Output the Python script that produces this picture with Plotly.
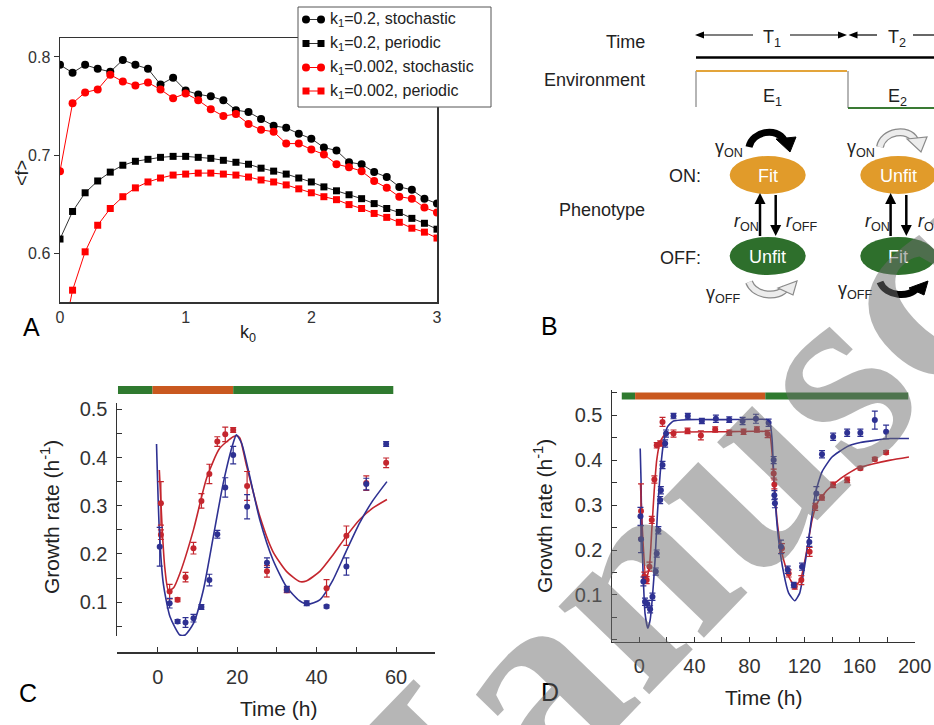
import plotly.graph_objects as go

W, H = 934, 725
FONT = "Liberation Sans"

# ---------------- Panel A data ----------------
k0 = [0.0, 0.1, 0.2, 0.3, 0.4, 0.5, 0.6, 0.7, 0.8, 0.9, 1.0, 1.1, 1.2, 1.3, 1.4, 1.5,
      1.6, 1.7, 1.8, 1.9, 2.0, 2.1, 2.2, 2.3, 2.4, 2.5, 2.6, 2.7, 2.8, 2.9, 3.0]
f_k02_stoch = [0.792, 0.784, 0.792, 0.788, 0.785, 0.797, 0.792, 0.788, 0.772, 0.779, 0.766,
               0.762, 0.760, 0.756, 0.746, 0.744, 0.737, 0.730, 0.728, 0.722, 0.717, 0.708,
               0.705, 0.693, 0.691, 0.683, 0.678, 0.668, 0.665, 0.656, 0.651]
f_k02_per = [0.615, 0.643, 0.662, 0.674, 0.683, 0.690, 0.694, 0.696, 0.698, 0.699, 0.699,
             0.698, 0.697, 0.695, 0.693, 0.691, 0.687, 0.684, 0.681, 0.677, 0.673, 0.668,
             0.664, 0.660, 0.656, 0.651, 0.646, 0.642, 0.636, 0.631, 0.625]
f_k0002_stoch = [0.684, 0.753, 0.764, 0.767, 0.782, 0.775, 0.771, 0.774, 0.767, 0.758, 0.763,
                 0.756, 0.747, 0.740, 0.742, 0.732, 0.726, 0.724, 0.712, 0.712, 0.706, 0.701,
                 0.691, 0.688, 0.684, 0.674, 0.667, 0.658, 0.656, 0.647, 0.642]
f_k0002_per = [0.500, 0.563, 0.602, 0.629, 0.646, 0.658, 0.667, 0.673, 0.677, 0.680, 0.681,
               0.682, 0.682, 0.681, 0.680, 0.678, 0.675, 0.673, 0.670, 0.666, 0.662, 0.658,
               0.655, 0.650, 0.646, 0.641, 0.637, 0.632, 0.626, 0.622, 0.616]
legend_names = ["k<sub>1</sub>=0.2, stochastic", "k<sub>1</sub>=0.2, periodic",
                "k<sub>1</sub>=0.002, stochastic", "k<sub>1</sub>=0.002, periodic"]

# ---------------- Panel C data ----------------
c_red_t = [0.8, 0.8, 3, 5, 7, 9, 11, 13, 15, 17, 19, 22.5, 27.5, 32.5, 42.5, 47.5, 52.5, 57.5]
c_red_v = [0.305, 0.240, 0.122, 0.105, 0.152, 0.212, 0.310, 0.366, 0.433, 0.448, 0.457,
           0.341, 0.164, 0.125, 0.129, 0.238, 0.347, 0.389]
c_red_e = [0.045, 0.010, 0.015, 0.004, 0.010, 0.012, 0.015, 0.020, 0.010, 0.015, 0.005,
           0.030, 0.012, 0.005, 0.018, 0.020, 0.015, 0.010]
c_blue_t = [0.5, 3, 5, 7, 9, 11, 13, 15, 17, 19, 22.5, 27.5, 32.5, 37.5, 42.5, 47.5, 52.5, 57.5]
c_blue_v = [0.215, 0.098, 0.060, 0.058, 0.067, 0.090, 0.146, 0.241, 0.338, 0.405, 0.298,
            0.182, 0.127, 0.098, 0.091, 0.174, 0.345, 0.428]
c_blue_e = [0.040, 0.010, 0.004, 0.010, 0.008, 0.005, 0.012, 0.008, 0.020, 0.018, 0.025,
            0.010, 0.006, 0.005, 0.003, 0.018, 0.012, 0.005]
c_red_fit_t = [0.4, 1.2, 1.8, 2.7, 4.0, 5.6, 9.0, 12.3, 15.6, 19.0, 20.0, 20.7, 22.3, 25.7,
               29.0, 32.4, 35.7, 37.4, 40.8, 44.1, 47.4, 50.8, 54.1, 57.7]
c_red_fit_v = [0.374, 0.240, 0.170, 0.124, 0.130, 0.160, 0.250, 0.357, 0.419, 0.443, 0.445,
               0.440, 0.385, 0.278, 0.205, 0.164, 0.143, 0.144, 0.164, 0.198, 0.236, 0.271,
               0.295, 0.313]
c_blue_fit_t = [-0.3, 0.4, 1.4, 3.1, 5.6, 6.9, 9.0, 11.5, 14.0, 16.5, 19.0, 19.8, 21.1, 22.8,
                25.7, 29.0, 32.4, 35.7, 37.8, 40.8, 44.1, 47.4, 50.8, 54.1, 57.7]
c_blue_fit_v = [0.428, 0.250, 0.139, 0.070, 0.032, 0.032, 0.056, 0.126, 0.236, 0.347, 0.430,
                0.447, 0.430, 0.374, 0.271, 0.188, 0.132, 0.103, 0.096, 0.105, 0.146, 0.205,
                0.264, 0.310, 0.350]
c_env_bounds = [-10.0, -1.3, 19.0, 59.3]   # green | orange | green

# ---------------- Panel D data ----------------
d_blue_t = [0.8, 1.2, 2.9, 4.1, 5.8, 7.8, 9.5, 11.9, 12.6, 13.8, 15.1, 15.6, 16.8, 18.7, 19.4,
            24.8, 35.2, 45.4, 55.6, 65.3, 75.0, 84.7, 93.9, 97.6, 98.1, 98.5, 102.9, 107.8,
            112.2, 118.2, 123.5, 128.6, 132.7, 140.8, 151.0, 160.6, 171.1, 179.3]
d_blue_v = [0.275, 0.224, 0.130, 0.085, 0.080, 0.068, 0.096, 0.152, 0.192, 0.244, 0.311,
            0.333, 0.389, 0.437, 0.459, 0.498, 0.498, 0.487, 0.492, 0.490, 0.487, 0.492,
            0.483, 0.400, 0.322, 0.304, 0.207, 0.156, 0.122, 0.163, 0.218, 0.326, 0.413,
            0.452, 0.461, 0.461, 0.489, 0.463]
d_blue_e = [0.020, 0.030, 0.010, 0.008, 0.008, 0.008, 0.008, 0.008, 0.008, 0.008, 0.008,
            0.008, 0.008, 0.008, 0.008, 0.006, 0.006, 0.006, 0.008, 0.006, 0.008, 0.010,
            0.008, 0.008, 0.010, 0.010, 0.015, 0.008, 0.006, 0.008, 0.010, 0.015, 0.008,
            0.008, 0.008, 0.008, 0.020, 0.015]
d_red_t = [1.2, 3.6, 5.3, 7.3, 9.0, 10.9, 12.6, 15.1, 16.8, 24.8, 35.0, 44.7, 55.1, 65.3, 75.7,
           85.4, 93.2, 97.6, 98.1, 103.6, 108.5, 112.9, 117.7, 123.7, 127.8, 132.7, 140.8,
           151.0, 160.6, 171.1, 179.3]
d_red_v = [0.287, 0.141, 0.133, 0.163, 0.267, 0.357, 0.433, 0.437, 0.485, 0.459, 0.465,
           0.455, 0.468, 0.461, 0.463, 0.468, 0.458, 0.370, 0.346, 0.204, 0.148, 0.119,
           0.133, 0.196, 0.296, 0.317, 0.345, 0.356, 0.382, 0.402, 0.417]
d_red_e = [0.060, 0.010, 0.008, 0.010, 0.008, 0.008, 0.006, 0.006, 0.010, 0.008, 0.006,
           0.010, 0.006, 0.006, 0.006, 0.006, 0.008, 0.010, 0.010, 0.010, 0.008, 0.006,
           0.010, 0.010, 0.008, 0.006, 0.006, 0.006, 0.004, 0.004, 0.004]
d_blue_fit_t = [0.6, 1.2, 1.7, 2.9, 4.1, 6.1, 7.8, 9.5, 11.4, 13.1, 15.1, 17.5, 20.4, 24.8,
                35.0, 60.0, 93.0, 94.7, 96.4, 98.1, 101.2, 104.9, 108.5, 112.9, 116.5, 120.6,
                124.3, 127.9, 132.7, 140.0, 151.0, 160.6, 171.1, 182.4, 195.9]
d_blue_fit_v = [0.426, 0.355, 0.244, 0.133, 0.059, 0.026, 0.044, 0.096, 0.178, 0.281, 0.370,
                0.437, 0.474, 0.487, 0.490, 0.490, 0.490, 0.485, 0.448, 0.337, 0.222, 0.148,
                0.104, 0.087, 0.104, 0.174, 0.252, 0.326, 0.374, 0.407, 0.430, 0.439, 0.444,
                0.448, 0.448]
d_red_fit_t = [0.8, 2.5, 4.8, 7.3, 9.0, 10.8, 12.6, 15.1, 18.7, 25.0, 60.0, 93.0, 95.0, 97.6,
               100.0, 103.6, 108.5, 112.9, 117.0, 121.3, 125.5, 129.2, 136.4, 146.1, 158.2,
               170.3, 182.4, 195.9]
d_red_fit_v = [0.348, 0.226, 0.133, 0.163, 0.244, 0.333, 0.400, 0.441, 0.458, 0.462, 0.463,
               0.463, 0.455, 0.370, 0.267, 0.193, 0.141, 0.120, 0.133, 0.193, 0.267, 0.304,
               0.333, 0.359, 0.382, 0.392, 0.400, 0.407]
d_env_bounds = [-12.8, -3.1, 91.5, 195.4]

# ---------------- styling ----------------
BLACK = "#000000"
RED = "#ff0000"
DRED = "#c4262e"
DBLUE = "#2e3192"
GREEN_BAR = "#2f7a2f"
ORANGE_BAR = "#c9581f"
ON_COL = "#e19b2a"
OFF_COL = "#2e6f2c"
TXT = "#222222"


def px(x):
    return x / W


def py(y):
    return 1 - y / H


fig = go.Figure()

# ---- Panel A traces ----
specA = [(f_k02_stoch, BLACK, "circle", "#333333"),
         (f_k02_per, BLACK, "square", "#333333"),
         (f_k0002_stoch, RED, "circle", RED),
         (f_k0002_per, RED, "square", RED)]
for (vals, col, sym, lcol), name in zip(specA, legend_names):
    fig.add_trace(go.Scatter(x=k0, y=vals, mode="lines+markers", name=name, showlegend=False,
                             line=dict(color=lcol, width=1),
                             marker=dict(color=col, symbol=sym, size=8 if sym == "circle" else 7),
                             xaxis="x", yaxis="y", cliponaxis=True))

# ---- Panel C traces ----
fig.add_trace(go.Scatter(x=c_red_fit_t, y=c_red_fit_v, mode="lines", line=dict(color=DRED, width=1.6, shape="spline", smoothing=0.6),
                         xaxis="x2", yaxis="y2", showlegend=False))
fig.add_trace(go.Scatter(x=c_blue_fit_t, y=c_blue_fit_v, mode="lines", line=dict(color=DBLUE, width=1.6, shape="spline", smoothing=0.6),
                         xaxis="x2", yaxis="y2", showlegend=False))
fig.add_trace(go.Scatter(x=c_red_t, y=c_red_v, mode="markers", marker=dict(color=DRED, size=6, symbol="circle"),
                         error_y=dict(type="data", array=c_red_e, color=DRED, thickness=1.2, width=3),
                         xaxis="x2", yaxis="y2", showlegend=False))
fig.add_trace(go.Scatter(x=c_blue_t, y=c_blue_v, mode="markers", marker=dict(color=DBLUE, size=6, symbol="circle"),
                         error_y=dict(type="data", array=c_blue_e, color=DBLUE, thickness=1.2, width=3),
                         xaxis="x2", yaxis="y2", showlegend=False))

# ---- Panel D traces ----
fig.add_trace(go.Scatter(x=d_red_fit_t, y=d_red_fit_v, mode="lines", line=dict(color=DRED, width=1.6, shape="spline", smoothing=0.5),
                         xaxis="x3", yaxis="y3", showlegend=False))
fig.add_trace(go.Scatter(x=d_blue_fit_t, y=d_blue_fit_v, mode="lines", line=dict(color=DBLUE, width=1.6, shape="spline", smoothing=0.5),
                         xaxis="x3", yaxis="y3", showlegend=False))
fig.add_trace(go.Scatter(x=d_red_t, y=d_red_v, mode="markers", marker=dict(color=DRED, size=6, symbol="circle"),
                         error_y=dict(type="data", array=d_red_e, color=DRED, thickness=1.2, width=3),
                         xaxis="x3", yaxis="y3", showlegend=False))
fig.add_trace(go.Scatter(x=d_blue_t, y=d_blue_v, mode="markers", marker=dict(color=DBLUE, size=6, symbol="circle"),
                         error_y=dict(type="data", array=d_blue_e, color=DBLUE, thickness=1.2, width=3),
                         xaxis="x3", yaxis="y3", showlegend=False))

# overlay pixel axis for the diagram / legend / labels
fig.add_trace(go.Scatter(x=[None], y=[None], xaxis="x4", yaxis="y4", showlegend=False, hoverinfo="skip"))

shapes = []
annotations = []


def seg(x0, y0, x1, y1, color=BLACK, width=1.2):
    shapes.append(dict(type="line", xref="x4", yref="y4", x0=x0, y0=y0, x1=x1, y1=y1,
                       line=dict(color=color, width=width)))


def path(d, fill="rgba(0,0,0,0)", color=BLACK, width=0):
    shapes.append(dict(type="path", xref="x4", yref="y4", path=d, fillcolor=fill,
                       line=dict(color=color, width=width)))


def ellipse(cx, cy, rx, ry, fill):
    shapes.append(dict(type="circle", xref="x4", yref="y4", x0=cx - rx, x1=cx + rx,
                       y0=cy - ry, y1=cy + ry, fillcolor=fill, line=dict(width=0)))


def rect(x0, y0, x1, y1, fill, line_color=None, lw=0):
    shapes.append(dict(type="rect", xref="x4", yref="y4", x0=x0, x1=x1, y0=y0, y1=y1,
                       fillcolor=fill, line=dict(color=line_color or fill, width=lw)))


def text(x, y, s, size=18, color=TXT, xanchor="center", angle=0, family=FONT):
    annotations.append(dict(xref="x4", yref="y4", x=x, y=y, text=s, showarrow=False,
                            xanchor=xanchor, yanchor="middle", textangle=angle,
                            font=dict(family=family, size=size, color=color)))


# ---- legend of panel A (marker-line-marker glyphs) ----
rect(298, 7, 491, 107, "white", "#555555", 1)
leg_y = [19.5, 43.5, 67.5, 91.0]
for (vals, col, sym, lcol), name, yy in zip(specA, legend_names, leg_y):
    seg(306, yy, 321, yy, lcol, 1)
    for gx in (306, 321):
        if sym == "circle":
            ellipse(gx, yy, 4, 4, col)
        else:
            rect(gx - 3.5, yy - 3.5, gx + 3.5, yy + 3.5, col)
    text(328, yy, name, 16, TXT, xanchor="left")


# ---- environment bars for C and D ----
def env_bar(bounds, xref, yc, h):
    cols = [GREEN_BAR, ORANGE_BAR, GREEN_BAR]
    for i in range(3):
        shapes.append(dict(type="rect", xref=xref, yref="paper", x0=bounds[i], x1=bounds[i + 1],
                           y0=py(yc + h / 2), y1=py(yc - h / 2), fillcolor=cols[i], line=dict(width=0)))


env_bar(c_env_bounds, "x2", 390, 8)
env_bar(d_env_bounds, "x3", 396, 7)

# ---- Panel B diagram ----
seg(700, 35, 753, 35)
path("M 695,35 L 704,31.5 L 704,38.5 Z", fill=BLACK)
seg(790, 35, 840, 35)
path("M 847,35 L 838,31.5 L 838,38.5 Z", fill=BLACK)
path("M 848.5,35 L 857.5,31.5 L 857.5,38.5 Z", fill=BLACK)
seg(857, 35, 877, 35)
seg(913, 35, 934, 35)
text(772, 38, "T<sub>1</sub>", 18)
text(897, 38, "T<sub>2</sub>", 18)
seg(696, 57.5, 934, 57.5, BLACK, 2.5)
seg(696, 71, 696, 107, "#b5b5b5", 2)
seg(848, 71, 848, 108, "#b5b5b5", 2)
seg(696, 71, 847, 71, "#e3a43a", 2.2)
seg(848, 108, 934, 108, "#3a7a34", 2.2)
text(772, 97, "E<sub>1</sub>", 18)
text(897, 97, "E<sub>2</sub>", 18)
for cx, top_txt, bot_txt in [(767.7, "Fit", "Unfit"), (898.3, "Unfit", "Fit")]:
    ellipse(cx, 175, 38, 19, ON_COL)
    ellipse(cx, 256, 38, 19, OFF_COL)
    text(cx, 176, top_txt, 18, "white")
    text(cx, 257, bot_txt, 18, "white")
    ux, dx = cx - 7.7, cx + 8
    seg(ux, 236, ux, 202, BLACK, 2.5)
    path(f"M {ux},193 L {ux-5.5},204 L {ux+5.5},204 Z", fill=BLACK)
    seg(dx, 195, dx, 228, BLACK, 2.5)
    path(f"M {dx},236 L {dx-5.5},225 L {dx+5.5},225 Z", fill=BLACK)


def curved_arrow_top(x0, dark):
    d = f"M {x0},147 C {x0+3},131 {x0+28},127 {x0+35},140"
    head = f"M {x0+27},139 L {x0+47},137 L {x0+41},152 Z"
    if dark:
        path(d, color=BLACK, width=7)
        path(head, fill=BLACK, color=BLACK, width=1)
    else:
        path(d, color="#8a8a8a", width=8)
        path(d, color="#ececec", width=5.5)
        path(head, fill="#ececec", color="#8a8a8a", width=1.2)


def curved_arrow_bottom(x0, dark):
    d = f"M {x0},282 C {x0+6},297 {x0+30},298 {x0+37},288"
    head = f"M {x0+29},288 L {x0+48},281 L {x0+44},295 Z"
    if dark:
        path(d, color=BLACK, width=7)
        path(head, fill=BLACK, color=BLACK, width=1)
    else:
        path(d, color="#8a8a8a", width=8)
        path(d, color="#ececec", width=5.5)
        path(head, fill="#ececec", color="#8a8a8a", width=1.2)


curved_arrow_top(749, True)
curved_arrow_bottom(749, False)
curved_arrow_top(880, False)
curved_arrow_bottom(880, True)

text(729, 148, "γ<sub>ON</sub>", 18)
text(723, 294, "γ<sub>OFF</sub>", 18)
text(861, 148, "γ<sub>ON</sub>", 18)
text(855, 290, "γ<sub>OFF</sub>", 18)
text(746, 222, "<i>r</i><sub>ON</sub>", 18)
text(801, 222, "<i>r</i><sub>OFF</sub>", 18)
text(877, 222, "<i>r</i><sub>ON</sub>", 18)
text(916, 222, "<i>r</i><sub>OFF</sub>", 18, xanchor="left")
text(647, 42, "Time", 18, xanchor="right")
text(647, 80, "Environment", 18, xanchor="right")
text(647, 210, "Phenotype", 18, xanchor="right")
text(703, 176, "ON:", 18, xanchor="right")
text(703, 258, "OFF:", 18, xanchor="right")

text(31, 327, "A", 25, BLACK)
text(549, 326, "B", 25, BLACK)
text(28, 693, "C", 25, BLACK)
text(550, 692, "D", 25, BLACK)

text(22, 173, "<f>", 18, TXT, angle=-90)
text(248, 333, "k<sub>0</sub>", 18, TXT)
text(50, 517, "Growth rate (h<sup>-1</sup>)", 21, TXT, angle=-90)
text(278, 708, "Time (h)", 21, TXT)
text(543, 516, "Growth rate (h<sup>-1</sup>)", 21, TXT, angle=-90)
text(763, 697, "Time (h)", 21, TXT)

# watermark
annotations.append(dict(xref="x4", yref="y4", x=780, y=425, text="<b>Manuscript</b>", showarrow=False,
                        xanchor="center", yanchor="middle", textangle=-46,
                        font=dict(family="Liberation Serif", size=275, color="rgba(110,110,110,0.5)")))

axis_common = dict(showgrid=False, zeroline=False, linecolor="#333333", tickcolor="#333333",
                   automargin=False, tickfont=dict(family=FONT, size=20, color="#333333"))

fig.update_layout(
    width=W, height=H, autosize=False,
    margin=dict(l=0, r=0, t=0, b=0, pad=0, autoexpand=False),
    paper_bgcolor="white", plot_bgcolor="rgba(0,0,0,0)",
    font=dict(family=FONT, color=TXT),
    showlegend=False,
    xaxis=dict(domain=[px(60), px(437)], range=[0, 3], anchor="y", showline=True, mirror=True,
               linewidth=1.5, linecolor="#333333", showgrid=False, zeroline=False, automargin=False,
               tickvals=[0, 1, 2, 3], ticks="", tickfont=dict(family=FONT, size=16, color="#333333")),
    yaxis=dict(domain=[py(302), py(38)], range=[0.551, 0.8193], anchor="x", showline=True, mirror=True,
               linewidth=1.5, linecolor="#333333", showgrid=False, zeroline=False, automargin=False,
               tickvals=[0.6, 0.7, 0.8], ticks="outside", ticklen=5, tickcolor="#333333",
               tickfont=dict(family=FONT, size=16, color="#333333")),
    xaxis2=dict(domain=[px(117), px(435)], range=[-10.25, 69.8], anchor="free", position=py(652.3),
                showline=True, linewidth=1.5, ticks="inside", ticklen=5, dtick=20, tick0=0,
                minor=dict(dtick=10, tick0=0, ticks="inside", ticklen=5, tickcolor="#333333"),
                ticklabelstandoff=6, **axis_common),
    yaxis2=dict(domain=[py(636), py(403)], range=[0.030, 0.513], anchor="x2", showline=True,
                linewidth=1.5, ticks="inside", ticklen=5, dtick=0.1, tick0=0, tickformat=".1f",
                minor=dict(dtick=0.05, tick0=0, ticks="inside", ticklen=5, tickcolor="#333333"),
                ticklabelstandoff=4, **axis_common),
    xaxis3=dict(domain=[px(612), px(915)], range=[-19.9, 200.3], anchor="y3", showline=True,
                linewidth=1.5, ticks="inside", ticklen=5, dtick=40, tick0=0,
                minor=dict(dtick=20, tick0=0, ticks="inside", ticklen=5, tickcolor="#333333"),
                ticklabelstandoff=6, **axis_common),
    yaxis3=dict(domain=[py(641.7), py(390)], range=[-0.004, 0.556], anchor="x3", showline=True,
                linewidth=1.5, ticks="inside", ticklen=5, tickformat=".1f",
                tickvals=[0.1, 0.2, 0.3, 0.4, 0.5],
                minor=dict(dtick=0.05, tick0=0, ticks="inside", ticklen=5, tickcolor="#333333"),
                ticklabelstandoff=4, **axis_common),
    xaxis4=dict(domain=[0, 1], range=[0, W], anchor="y4", visible=False, fixedrange=True, automargin=False),
    yaxis4=dict(domain=[0, 1], range=[H, 0], anchor="x4", visible=False, fixedrange=True, automargin=False),
    shapes=shapes,
    annotations=annotations,
)

fig.write_html("out.html", config={"displayModeBar": False, "staticPlot": True},
               post_script="document.documentElement.style.margin='0';"
                           "document.documentElement.style.overflow='hidden';"
                           "document.body.style.margin='0';document.body.style.padding='0';"
                           "document.body.style.overflow='hidden';")
